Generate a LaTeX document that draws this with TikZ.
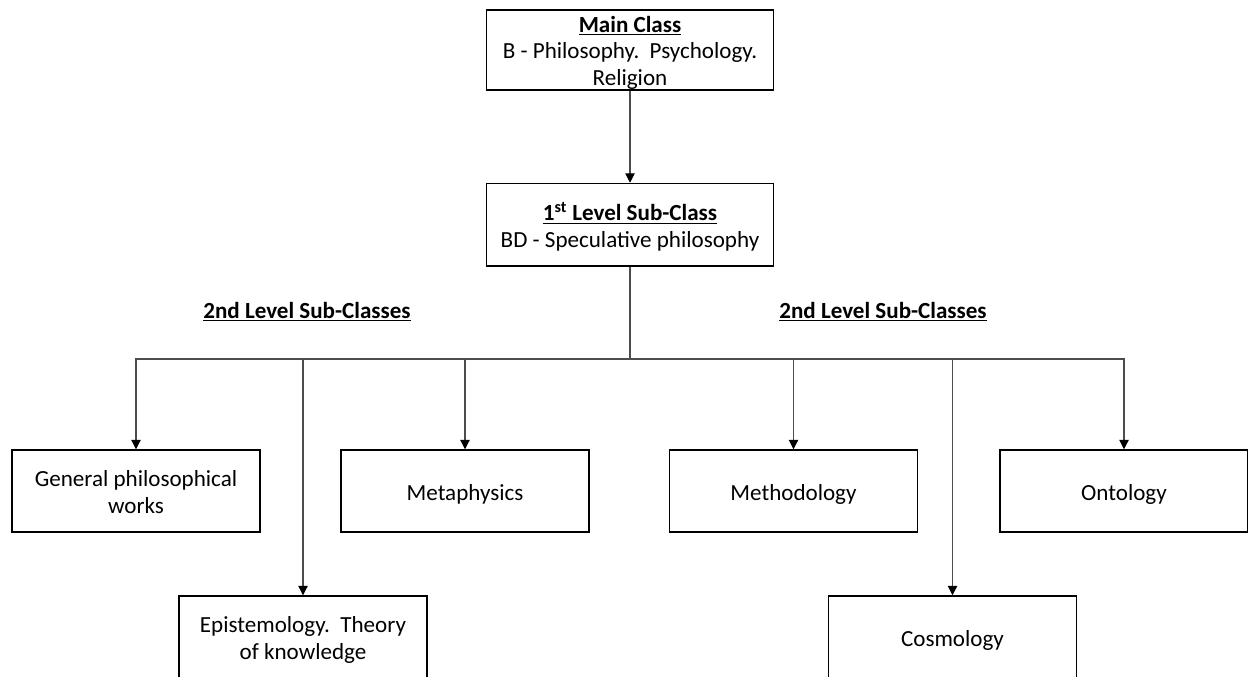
\documentclass[tikz,border=0pt]{standalone}
\usepackage{fontspec}
\setmainfont{Carlito}
\usetikzlibrary{arrows.meta,positioning}
\tikzset{>={Triangle[length=7pt,width=7pt,color=black]}}
\tikzset{class node/.style={rectangle,draw,line width=1.1pt,minimum width=186pt,minimum height=61.5pt,inner xsep=2pt,inner ysep=0pt,text depth=0pt,align=center,font=\fontsize{17.3}{20}\selectfont},
            head node/.style={font=\fontsize{17.3}{20}\selectfont\bfseries},
            link/.style={draw,black!70,line width=0.8pt}
            }
\newcommand{\boxstrut}{\rule{0pt}{13.5pt}}

\begin{document}
\begin{tikzpicture}[x=0.75pt,y=-0.75pt]

    \clip (0,0) rectangle (1248,677);

    \node[class node,minimum width=215pt,minimum height=60pt] (1) at (630,50) {\boxstrut\textbf{\underline{Main Class}}\\B - Philosophy.\ \ Psychology.\\Religion};
    \node[class node,minimum width=215pt,minimum height=62pt] (2) [below = 69pt of 1] {\boxstrut\textbf{\underline{1\textsuperscript{st} Level Sub-Class}}\\BD - Speculative philosophy};

    \node[head node] (L) at (307,312) {\underline{2nd Level Sub-Classes}};
    \node[head node] (R) at (883,312) {\underline{2nd Level Sub-Classes}};

    \node[class node] (3) at (136,491) {\boxstrut General philosophical\\works};
    \node[class node] (4) at (465,491) {\boxstrut Metaphysics};
    \node[class node] (5) at (793.5,491) {\boxstrut Methodology};
    \node[class node] (6) at (1124,491) {\boxstrut Ontology};
    \node[class node] (7) at (303,637) {\boxstrut Epistemology.\ \ Theory\\of knowledge};
    \node[class node] (8) at (952.5,637) {\boxstrut Cosmology};

    \coordinate (bus) at (630,359);

    \path[link,->] (1) -- (2);
    \path[link] (2) -- (bus);
    \foreach \n in {3,...,8}
        \path[link,->] (bus) -| (\n);

\end{tikzpicture}
\end{document}
